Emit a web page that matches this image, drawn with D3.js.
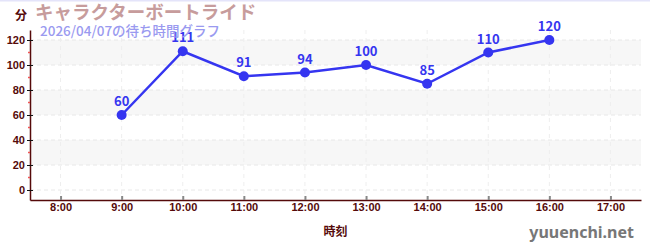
<!DOCTYPE html>
<html>
<head>
<meta charset="utf-8">
<script src="https://cdn.jsdelivr.net/npm/d3@7"></script>
<style>
  body { margin: 0; background: #fff; }
  svg { display: block; font-family: "Noto Sans CJK JP", "Noto Sans", sans-serif; }
</style>
</head>
<body>
<svg class="chart" width="650" height="250"></svg>
<script>
const hours = [9, 10, 11, 12, 13, 14, 15, 16]
const waits = [60, 111, 91, 94, 100, 85, 110, 120]
const xTicks = [8, 9, 10, 11, 12, 13, 14, 15, 16, 17]
const yTicks = [0, 20, 40, 60, 80, 100, 120]
const yMinor = [10, 30, 50, 70, 90, 110]
const bands = [[20, 40], [60, 80], [100, 120]]

const title = 'キャラクターボートライド'
const subtitle = '2026/04/07の待ち時間グラフ'

const margin = { top: 30, right: 9, bottom: 50, left: 30 }
const width = 650
const height = 250
const innerWidth = width - margin.left - margin.right
const innerHeight = height - margin.top - margin.bottom

const axisColor = '#550a0a'
const lineColor = '#3535f0'

const svg = d3.select('svg.chart')

// top border line
svg.append('rect')
  .attr('x', 0).attr('y', 0)
  .attr('width', width).attr('height', 1.5)
  .attr('fill', '#e4e4fa')

const g = svg.append('g')
  .attr('transform', `translate(${margin.left},${margin.top})`)

const x = d3.scaleLinear().domain([7.5, 17.5]).range([0, innerWidth])
const y = d3.scaleLinear().domain([-8, 128]).range([innerHeight, 0])

// Bands
g.selectAll('rect.band').data(bands).enter().append('rect')
  .attr('class', 'band')
  .attr('x', 0)
  .attr('width', innerWidth)
  .attr('y', d => y(d[1]))
  .attr('height', d => y(d[0]) - y(d[1]))
  .attr('fill', '#f7f7f7')

// Grid
g.selectAll('line.hgrid').data(yTicks).enter().append('line')
  .attr('class', 'hgrid')
  .attr('x1', 0).attr('x2', innerWidth)
  .attr('y1', d => y(d)).attr('y2', d => y(d))
  .attr('stroke', '#e8e8e8')
  .attr('stroke-dasharray', '4,3')
g.selectAll('line.vgrid').data(xTicks).enter().append('line')
  .attr('class', 'vgrid')
  .attr('x1', d => x(d)).attr('x2', d => x(d))
  .attr('y1', 0).attr('y2', innerHeight)
  .attr('stroke', '#eeeeee')
  .attr('stroke-dasharray', '4,4')

// Axes
const xAxisG = g.append('g')
  .attr('transform', `translate(0,${innerHeight})`)
  .call(d3.axisBottom(x).tickValues(xTicks).tickFormat(d => `${d}:00`).tickSize(0).tickPadding(3))
xAxisG.select('.domain').attr('stroke', axisColor).attr('stroke-width', 1.5)
xAxisG.selectAll('text')
  .attr('fill', axisColor)
  .style('font-size', '11px')
  .style('font-weight', 'bold')
xAxisG.selectAll('.tick').append('line')
  .attr('y1', -4).attr('y2', 0)
  .attr('stroke', '#888').attr('stroke-width', 2)

const yAxisG = g.append('g')
  .call(d3.axisLeft(y).tickValues(yTicks).tickSize(0).tickPadding(5))
yAxisG.select('.domain').attr('stroke', axisColor).attr('stroke-width', 1.5)
yAxisG.selectAll('text')
  .attr('fill', axisColor)
  .style('font-size', '11px')
  .style('font-weight', 'bold')
yAxisG.selectAll('.tick').append('line')
  .attr('x1', -3).attr('x2', 3)
  .attr('stroke', '#111').attr('stroke-width', 1)
g.selectAll('line.minor').data(yMinor).enter().append('line')
  .attr('class', 'minor')
  .attr('x1', -2).attr('x2', 0)
  .attr('y1', d => y(d)).attr('y2', d => y(d))
  .attr('stroke', '#ee5555').attr('stroke-width', 1.5)

// Line
const pts = hours.map((h, i) => ({ h, v: waits[i] }))
g.append('path')
  .datum(pts)
  .attr('fill', 'none')
  .attr('stroke', lineColor)
  .attr('stroke-width', 2.5)
  .attr('d', d3.line().x(d => x(d.h)).y(d => y(d.v)))

g.selectAll('circle.pt').data(pts).enter().append('circle')
  .attr('class', 'pt')
  .attr('cx', d => x(d.h))
  .attr('cy', d => y(d.v))
  .attr('r', 5)
  .attr('fill', lineColor)

g.selectAll('text.val').data(pts).enter().append('text')
  .attr('class', 'val')
  .attr('x', d => x(d.h))
  .attr('y', d => y(d.v) - 9)
  .attr('text-anchor', 'middle')
  .attr('fill', lineColor)
  .style('font-size', '13px')
  .style('font-weight', 'bold')
  .text(d => d.v)

// Titles
svg.append('text')
  .attr('x', 15).attr('y', 20)
  .attr('fill', axisColor)
  .style('font-size', '12px')
  .style('font-weight', 'bold')
  .text('分')
svg.append('text')
  .attr('x', 35).attr('y', 19)
  .attr('fill', '#c79c9c')
  .style('font-size', '18.5px')
  .style('font-weight', 'bold')
  .text(title)
svg.append('text')
  .attr('x', 40).attr('y', 36)
  .attr('fill', '#9a9af0')
  .style('font-size', '13.5px')
  .style('font-weight', 500)
  .text(subtitle)

svg.append('text')
  .attr('x', margin.left + x(12.5)).attr('y', 236)
  .attr('text-anchor', 'middle')
  .attr('fill', axisColor)
  .style('font-size', '12px')
  .style('font-weight', 'bold')
  .text('時刻')

svg.append('text')
  .attr('x', 634).attr('y', 238)
  .attr('text-anchor', 'end')
  .attr('fill', '#777')
  .style('font-size', '16px')
  .style('font-weight', 'bold')
  .style('font-family', '"Noto Sans", sans-serif')
  .text('yuuenchi.net')
</script>
</body>
</html>
